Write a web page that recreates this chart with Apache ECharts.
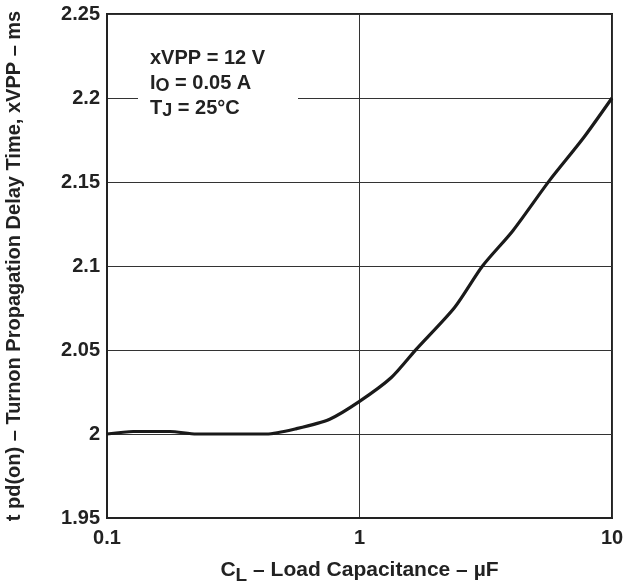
<!DOCTYPE html>
<html>
<head>
<meta charset="utf-8">
<script src="https://cdn.jsdelivr.net/npm/echarts@6/dist/echarts.min.js"></script>
<style>html,body{margin:0;padding:0;background:#fff}#c{width:623px;height:584px}</style>
</head>
<body>
<div id="c"></div>
<script>
var capacitance = [0.1, 0.127, 0.1775, 0.226, 0.428, 0.563, 0.762, 1.0, 1.337, 1.68, 2.38, 3.07, 4.05, 5.65, 7.66, 10];
var delay = [2.0, 2.0015, 2.0015, 2.0, 2.0, 2.0032, 2.0088, 2.0194, 2.0336, 2.0505, 2.0753, 2.1, 2.121, 2.1508, 2.1757, 2.2];
var yTicks = ['1.95', '2', '2.05', '2.1', '2.15', '2.2', '2.25'];
var xTicks = ['0.1', '1', '10'];

var FONT = 'Liberation Sans, Arial, Helvetica, sans-serif';
var chart = echarts.init(document.getElementById('c'));
var points = capacitance.map(function (c, i) { return [c, delay[i]]; });

chart.setOption({
  animation: false,
  grid: { left: 107, right: 11, top: 14, bottom: 66, containLabel: false, outerBoundsMode: 'none',
          show: true, borderColor: '#222', borderWidth: 2, backgroundColor: 'transparent' },
  xAxis: {
    type: 'log', logBase: 10, min: 0.1, max: 10,
    axisLine: { show: true, lineStyle: { color: '#222', width: 2 } },
    axisTick: { show: false },
    splitLine: { show: true, lineStyle: { color: '#333', width: 1 } },
    minorSplitLine: { show: false },
    axisLabel: {
      color: '#222', fontFamily: FONT, fontWeight: 'bold', fontSize: 20, margin: 10,
      formatter: function (v) { var k = Math.round(Math.log10(v)) + 1; return xTicks[k] || ''; }
    },
    name: '{m|C}{s|L}{m| – Load Capacitance – µF}',
    nameLocation: 'middle', nameGap: 37,
    nameTextStyle: {
      rich: {
        m: { fontFamily: FONT, fontWeight: 'bold', fontSize: 21, color: '#222', lineHeight: 30, verticalAlign: 'middle' },
        s: { fontFamily: FONT, fontWeight: 'bold', fontSize: 19, color: '#222', lineHeight: 30, verticalAlign: 'bottom' }
      }
    }
  },
  yAxis: {
    type: 'value', min: 1.95, max: 2.25, interval: 0.05,
    axisLine: { show: true, lineStyle: { color: '#222', width: 2 } },
    axisTick: { show: false },
    splitLine: { show: true, lineStyle: { color: '#333', width: 1 } },
    axisLabel: {
      color: '#222', fontFamily: FONT, fontWeight: 'bold', fontSize: 20, margin: 7,
      formatter: function (v) { var i = Math.round((v - 1.95) / 0.05); return yTicks[i] || ''; }
    },
    name: 't pd(on) – Turnon Propagation Delay Time, xVPP – ms',
    nameLocation: 'middle', nameGap: 83, nameRotate: 90,
    nameTextStyle: { fontFamily: FONT, fontWeight: 'bold', fontSize: 20, color: '#222' }
  },
  graphic: [
    { type: 'rect', left: 138, top: 40, shape: { width: 160, height: 84 }, style: { fill: '#fff' }, z: 10 },
    {
      type: 'text', left: 150, top: 48, z: 11,
      style: {
        text: '{m|xVPP = 12 V}\n{m|I}{s|O}{m| = 0.05 A}\n{m|T}{s|J}{m| = 25°C}',
        rich: {
          m: { fontFamily: FONT, fontWeight: 'bold', fontSize: 20, fill: '#222', lineHeight: 25, verticalAlign: 'middle' },
          s: { fontFamily: FONT, fontWeight: 'bold', fontSize: 18, fill: '#222', lineHeight: 25, verticalAlign: 'bottom' }
        }
      }
    }
  ],
  series: [{
    type: 'line', data: points, showSymbol: false, smooth: 0.25,
    lineStyle: { color: '#1a1a1a', width: 3.2 }, z: 5
  }]
});
</script>
</body>
</html>
